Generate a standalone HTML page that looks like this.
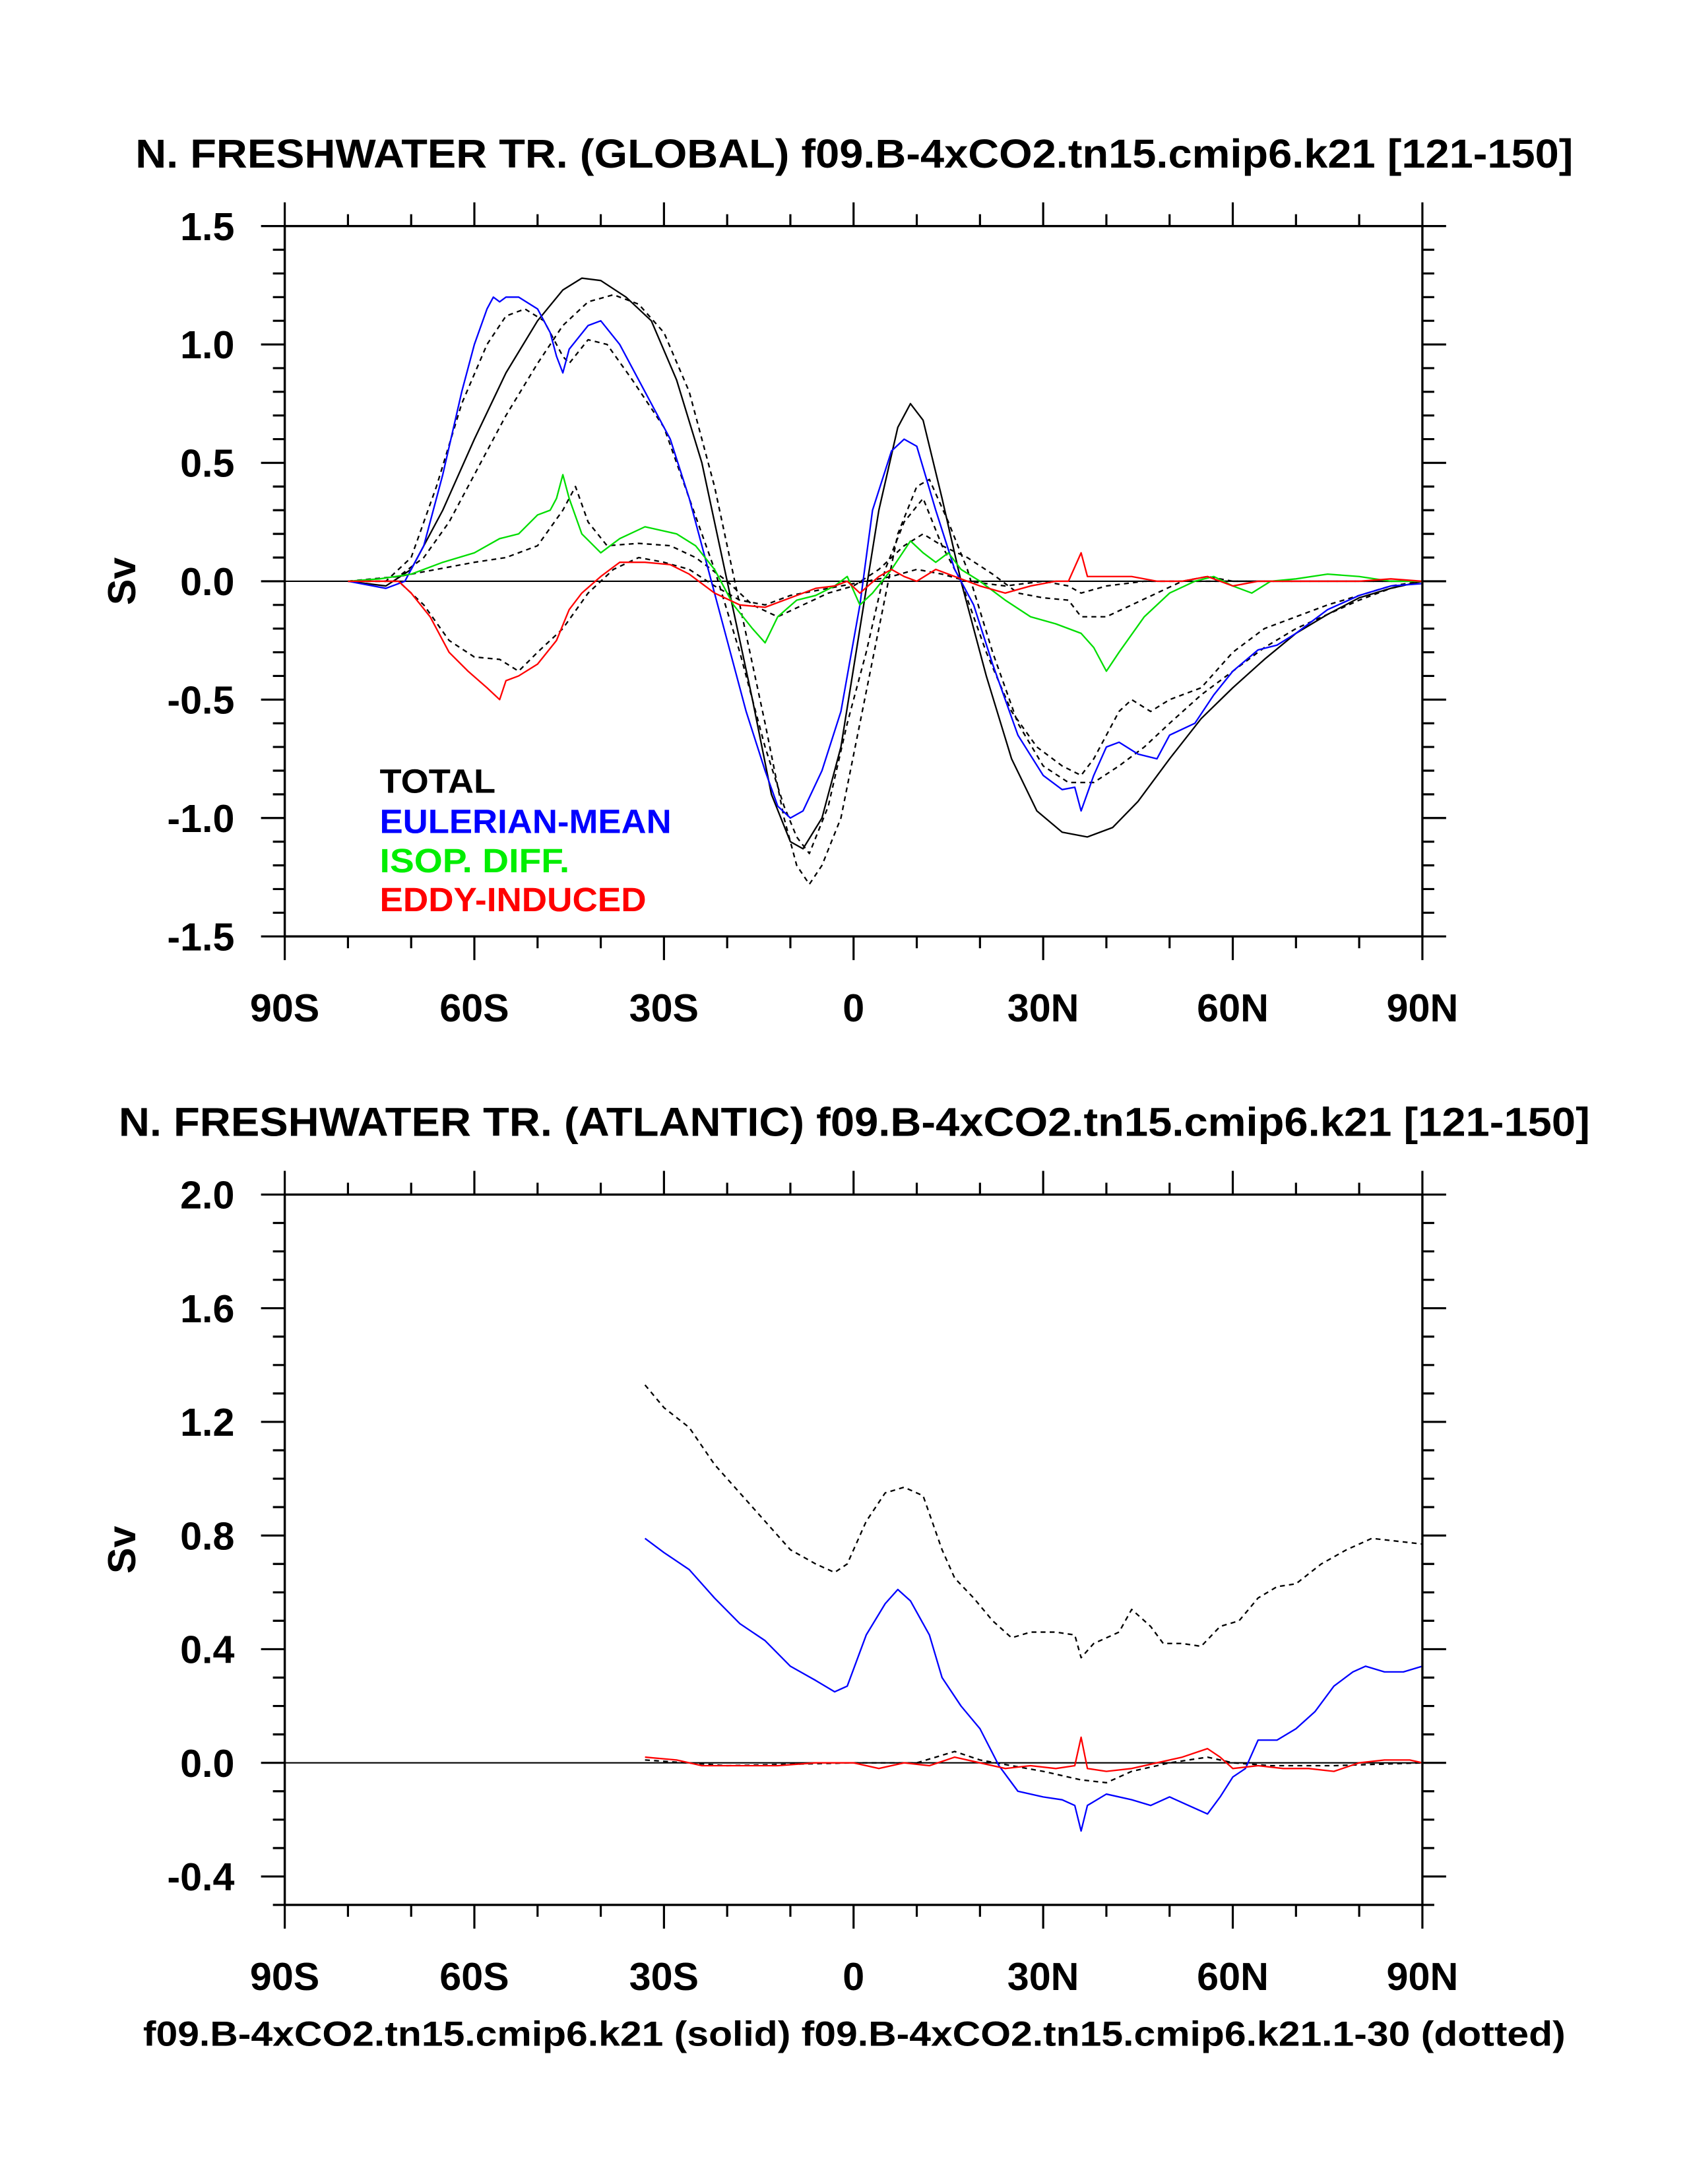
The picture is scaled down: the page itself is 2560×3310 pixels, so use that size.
<!DOCTYPE html>
<html><head><meta charset="utf-8"><style>html,body{margin:0;padding:0;background:#fff}svg{display:block}</style></head>
<body>
<svg id="chart" width="2560" height="3310" viewBox="0 0 1210 1565" preserveAspectRatio="none" xmlns="http://www.w3.org/2000/svg" font-family="'Liberation Sans', Arial, sans-serif" font-weight="bold">
<rect width="1210" height="1565" fill="#fff"/>
<text x="612" y="120" font-size="29" text-anchor="middle" textLength="1030" lengthAdjust="spacingAndGlyphs">N. FRESHWATER TR. (GLOBAL) f09.B-4xCO2.tn15.cmip6.k21 [121-150]</text>
<text x="612" y="814" font-size="29" text-anchor="middle" textLength="1054" lengthAdjust="spacingAndGlyphs">N. FRESHWATER TR. (ATLANTIC) f09.B-4xCO2.tn15.cmip6.k21 [121-150]</text>
<text x="612" y="1466" font-size="25" text-anchor="middle" textLength="1019" lengthAdjust="spacingAndGlyphs">f09.B-4xCO2.tn15.cmip6.k21 (solid) f09.B-4xCO2.tn15.cmip6.k21.1-30 (dotted)</text>
<g font-size="24">
<text x="272" y="568" fill="#000" textLength="83" lengthAdjust="spacingAndGlyphs">TOTAL</text>
<text x="272" y="597" fill="#0000ff" textLength="209" lengthAdjust="spacingAndGlyphs">EULERIAN-MEAN</text>
<text x="272" y="625" fill="#00ee00" textLength="136" lengthAdjust="spacingAndGlyphs">ISOP. DIFF.</text>
<text x="272" y="653" fill="#ff0000" textLength="191" lengthAdjust="spacingAndGlyphs">EDDY-INDUCED</text>
</g>
</svg>
<script>
// ---- Global panel data ----
const gTotalLat=[-80,-74,-70,-65,-60,-55,-50,-46,-43,-40,-36,-32,-28,-24,-20,-16,-13,-10,-8,-5,-2,1,4,7,9,11,14,17,21,25,29,33,37,41,45,50,55,60,65,70,75,80,85,90];
const gTotalVal=[0,-0.02,0.05,0.3,0.6,0.88,1.1,1.23,1.28,1.27,1.2,1.1,0.85,0.5,0,-0.5,-0.9,-1.1,-1.13,-1.0,-0.7,-0.2,0.3,0.65,0.75,0.68,0.35,0,-0.4,-0.75,-0.97,-1.06,-1.08,-1.04,-0.93,-0.75,-0.58,-0.45,-0.33,-0.22,-0.14,-0.07,-0.03,0];
const gEulerLat=[-80,-74,-71,-68,-65,-62,-60,-58,-57,-56,-55,-53,-50,-48,-47,-46,-45,-42,-40,-37,-33,-29,-26,-23,-20,-17,-14,-12,-10,-8,-5,-2,1,3,6,8,10,13,16,19,22,26,30,33,35,36,38,40,42,45,48,50,54,57,60,64,67,70,75,80,85,90];
const gEulerVal=[0,-0.03,0,0.15,0.45,0.8,1.0,1.15,1.2,1.18,1.2,1.2,1.15,1.05,0.95,0.88,0.98,1.08,1.1,1.0,0.8,0.6,0.35,0.05,-0.25,-0.55,-0.8,-0.95,-1.0,-0.97,-0.8,-0.55,-0.1,0.3,0.55,0.6,0.57,0.3,0.05,-0.1,-0.35,-0.65,-0.82,-0.88,-0.87,-0.97,-0.82,-0.7,-0.68,-0.73,-0.75,-0.65,-0.6,-0.48,-0.38,-0.29,-0.27,-0.22,-0.12,-0.06,-0.02,-0.01];
const gIsopLat=[-80,-75,-70,-65,-60,-56,-53,-50,-48,-47,-46,-45,-43,-40,-37,-33,-28,-25,-22,-19,-16,-14,-12,-9,-6,-3,-1,1,3,6,9,11,13,15,17,20,24,28,32,36,38,40,42,46,50,54,57,60,63,66,70,75,80,85,90];
const gIsopVal=[0,0.01,0.03,0.08,0.12,0.18,0.2,0.28,0.3,0.35,0.45,0.35,0.2,0.12,0.18,0.23,0.2,0.15,0.05,-0.1,-0.2,-0.26,-0.15,-0.08,-0.06,-0.02,0.02,-0.1,-0.05,0.05,0.17,0.12,0.08,0.12,0.05,0,-0.08,-0.15,-0.18,-0.22,-0.28,-0.38,-0.3,-0.15,-0.05,0,0.02,-0.02,-0.05,0,0.01,0.03,0.02,0,0];
const gEddyLat=[-80,-75,-72,-70,-67,-64,-61,-58,-56,-55,-53,-50,-47,-45,-43,-40,-37,-33,-29,-26,-22,-18,-14,-10,-6,-3,-1,1,4,6,8,10,13,16,20,24,28,32,34,36,37,40,44,48,52,56,60,64,70,80,85,90];
const gEddyVal=[0,0,0,-0.05,-0.15,-0.3,-0.38,-0.45,-0.5,-0.42,-0.4,-0.35,-0.25,-0.12,-0.05,0.02,0.08,0.08,0.07,0.03,-0.05,-0.1,-0.11,-0.07,-0.03,-0.02,0,-0.05,0.02,0.05,0.02,0,0.05,0.02,-0.02,-0.05,-0.02,0,0,0.12,0.02,0.02,0.02,0,0,0.02,-0.02,0,0,0,0.01,0];
const gTotalDLat=[-80,-72,-68,-64,-60,-55,-50,-46,-42,-38,-34,-30,-26,-22,-18,-14,-11,-9,-7,-5,-2,1,4,7,10,12,15,18,22,26,30,34,38,42,46,50,55,60,65,70,75,80,85,90];
const gTotalDVal=[0,0.02,0.1,0.25,0.45,0.7,0.92,1.08,1.18,1.21,1.17,1.05,0.8,0.4,-0.1,-0.6,-1.0,-1.2,-1.28,-1.2,-1.0,-0.6,-0.2,0.2,0.4,0.43,0.25,0.05,-0.3,-0.6,-0.78,-0.85,-0.85,-0.78,-0.7,-0.6,-0.48,-0.38,-0.28,-0.2,-0.14,-0.08,-0.03,0];
const gEulerDLat=[-80,-74,-70,-66,-62,-58,-55,-52,-49,-46,-45,-42,-39,-35,-30,-26,-22,-18,-14,-11,-9,-7,-4,-1,2,5,8,11,14,17,21,25,29,33,36,38,42,44,47,50,55,60,65,70,75,80,85,90];
const gEulerDVal=[0,0,0.1,0.4,0.75,1.0,1.12,1.15,1.1,0.95,0.92,1.02,1.0,0.85,0.65,0.35,0.05,-0.3,-0.7,-0.95,-1.08,-1.15,-0.95,-0.6,-0.3,0.05,0.25,0.35,0.15,0,-0.3,-0.55,-0.7,-0.78,-0.82,-0.75,-0.55,-0.5,-0.55,-0.5,-0.45,-0.3,-0.2,-0.15,-0.1,-0.06,-0.02,0];
const gIsopDLat=[-80,-72,-66,-60,-55,-50,-46,-44,-42,-39,-34,-29,-25,-20,-16,-12,-8,-4,0,4,8,11,14,18,22,26,30,34,36,40,44,48,52,56,60,66,72,80,90];
const gIsopDVal=[0,0.02,0.05,0.08,0.1,0.15,0.3,0.4,0.25,0.15,0.16,0.15,0.1,0,-0.1,-0.15,-0.1,-0.05,-0.02,0.05,0.15,0.2,0.15,0.1,0.03,-0.05,-0.07,-0.08,-0.15,-0.15,-0.1,-0.05,0,0.02,0,0,0,0,0];
const gEddyDLat=[-80,-72,-68,-64,-60,-56,-53,-50,-46,-42,-38,-34,-30,-26,-22,-18,-14,-10,-6,-2,2,6,10,14,18,24,30,34,36,40,46,60,90];
const gEddyDVal=[0,0,-0.1,-0.25,-0.32,-0.33,-0.38,-0.3,-0.2,-0.05,0.05,0.1,0.08,0.05,-0.02,-0.08,-0.1,-0.06,-0.04,-0.02,0,0.02,0.05,0.03,0,-0.02,0,-0.02,-0.05,-0.02,0,0,0];
// ---- Atlantic panel data ----
const aEulerLat=[-33,-30,-26,-22,-18,-14,-10,-6,-3,-1,2,5,7,9,12,14,17,20,23,26,30,33,35,36,37,40,44,47,50,53,56,58,60,62,64,67,70,73,76,79,81,84,87,90];
const aEulerVal=[0.79,0.74,0.68,0.58,0.49,0.43,0.34,0.29,0.25,0.27,0.45,0.56,0.61,0.57,0.45,0.3,0.2,0.12,-0.01,-0.1,-0.12,-0.13,-0.15,-0.24,-0.15,-0.11,-0.13,-0.15,-0.12,-0.15,-0.18,-0.12,-0.05,-0.02,0.08,0.08,0.12,0.18,0.27,0.32,0.34,0.32,0.32,0.34];
const aTotalDLat=[-33,-30,-26,-22,-18,-14,-10,-6,-3,-1,2,5,8,11,14,16,19,22,25,28,32,35,36,38,42,44,47,49,52,55,58,61,64,67,70,74,78,82,86,90];
const aTotalDVal=[1.33,1.25,1.18,1.05,0.95,0.85,0.75,0.7,0.67,0.7,0.85,0.95,0.97,0.94,0.75,0.65,0.58,0.5,0.44,0.46,0.46,0.45,0.37,0.42,0.46,0.54,0.48,0.42,0.42,0.41,0.48,0.5,0.58,0.62,0.63,0.7,0.75,0.79,0.78,0.77];
const aEddyLat=[-33,-28,-24,-18,-12,-6,0,4,8,12,16,20,24,28,32,35,36,37,40,44,48,52,56,58,60,64,68,72,76,80,84,88,90];
const aEddyVal=[0.02,0.01,-0.01,-0.01,-0.01,0,0,-0.02,0,-0.01,0.02,0,-0.02,-0.01,-0.02,-0.01,0.09,-0.02,-0.03,-0.02,0,0.02,0.05,0.02,-0.02,-0.01,-0.02,-0.02,-0.03,0,0.01,0.01,0];
const aEddyDLat=[-33,-20,0,10,16,20,30,36,40,44,50,56,60,66,76,90];
const aEddyDVal=[0.01,-0.01,0,0,0.04,0.01,-0.03,-0.06,-0.07,-0.03,0,0.02,0,-0.01,-0.01,0];
const xTickLabels=["90S","60S","30S","0","30N","60N","90N"];
const gYTicks=[-1.5,-1.0,-0.5,0.0,0.5,1.0,1.5];
const aYTicks=[-0.4,0.0,0.4,0.8,1.2,1.6,2.0];

const NS="http://www.w3.org/2000/svg";
const svg=document.getElementById('chart');
function mk(tag,attrs,parent){const e=document.createElementNS(NS,tag);for(const k in attrs)e.setAttribute(k,attrs[k]);(parent||svg).appendChild(e);return e;}
const X0=204,X1=1019;
function xs(lat){return X0+(lat+90)/180*(X1-X0);}

function panel(name,top,bot,ymin,ymax,yTicks,yMinorStep,decimals,series){
  const ys=v=>bot-(v-ymin)/(ymax-ymin)*(bot-top);
  const g=mk('g',{});
  
  
  const z=mk('line',{x1:X0,x2:X1,y1:ys(0),y2:ys(0),stroke:'#000','stroke-width':1},g);
  
  
  series.forEach(s=>{
    const d=s.lat.map((l,i)=>(i?'L':'M')+xs(l).toFixed(2)+','+ys(s.val[i]).toFixed(2)).join('');
    const p=mk('path',{d:d,fill:'none',stroke:s.color,'stroke-width':1.1,'stroke-linejoin':'round'},g);
    if(s.dash)p.setAttribute('stroke-dasharray','3.5,3');
    
    
  });
  const f=mk('rect',{x:X0,y:top,width:X1-X0,height:bot-top,fill:'none',stroke:'#000','stroke-width':1.6},g);
  
  
  for(let lat=-90;lat<=90;lat+=10){
    const major=lat%30===0, L=major?17:8.5, x=xs(lat);
    mk('line',{x1:x,x2:x,y1:bot,y2:bot+L,stroke:'#000','stroke-width':1.5},g);
    mk('line',{x1:x,x2:x,y1:top-L,y2:top,stroke:'#000','stroke-width':1.5},g);
  }
  xTickLabels.forEach((t,i)=>{
    const e=mk('text',{x:xs(-90+30*i),y:bot+61,'font-size':28,'text-anchor':'middle'},g);
    e.textContent=t;
    
    
  });
  const nMin=Math.round((ymax-ymin)/yMinorStep);
  for(let i=0;i<=nMin;i++){
    const v=ymin+i*yMinorStep, y=ys(v);
    const isMaj=yTicks.some(t=>Math.abs(t-v)<1e-6), L=isMaj?17:8.5;
    mk('line',{x1:X0-L,x2:X0,y1:y,y2:y,stroke:'#000','stroke-width':1.5},g);
    mk('line',{x1:X1,x2:X1+L,y1:y,y2:y,stroke:'#000','stroke-width':1.5},g);
  }
  yTicks.forEach(t=>{
    const e=mk('text',{x:168,y:ys(t)+10,'font-size':28,'text-anchor':'end'},g);
    e.textContent=t.toFixed(decimals);
    
    
  });
  const yt=mk('text',{x:0,y:0,'font-size':28,'text-anchor':'middle',transform:`translate(97,${ys((ymin+ymax)/2)}) rotate(-90)`},g);
  yt.textContent='Sv';
  
  
}
panel('global',162,671,-1.5,1.5,gYTicks,0.1,1,[
  {name:'global-total-dotted',lat:gTotalDLat,val:gTotalDVal,color:'#000',dash:1},
  {name:'global-euler-dotted',lat:gEulerDLat,val:gEulerDVal,color:'#000',dash:1},
  {name:'global-isop-dotted',lat:gIsopDLat,val:gIsopDVal,color:'#000',dash:1},
  {name:'global-eddy-dotted',lat:gEddyDLat,val:gEddyDVal,color:'#000',dash:1},
  {name:'global-total-line',lat:gTotalLat,val:gTotalVal,color:'#000'},
  {name:'global-euler-line',lat:gEulerLat,val:gEulerVal,color:'#0000ff'},
  {name:'global-isop-line',lat:gIsopLat,val:gIsopVal,color:'#00dd00'},
  {name:'global-eddy-line',lat:gEddyLat,val:gEddyVal,color:'#ff0000'}
]);
panel('atlantic',856,1365,-0.5,2.0,aYTicks,0.1,1,[
  {name:'atlantic-total-dotted',lat:aTotalDLat,val:aTotalDVal,color:'#000',dash:1},
  {name:'atlantic-eddy-dotted',lat:aEddyDLat,val:aEddyDVal,color:'#000',dash:1},
  {name:'atlantic-euler-line',lat:aEulerLat,val:aEulerVal,color:'#0000ff'},
  {name:'atlantic-eddy-line',lat:aEddyLat,val:aEddyVal,color:'#ff0000'}
]);
</script>
</body></html>
